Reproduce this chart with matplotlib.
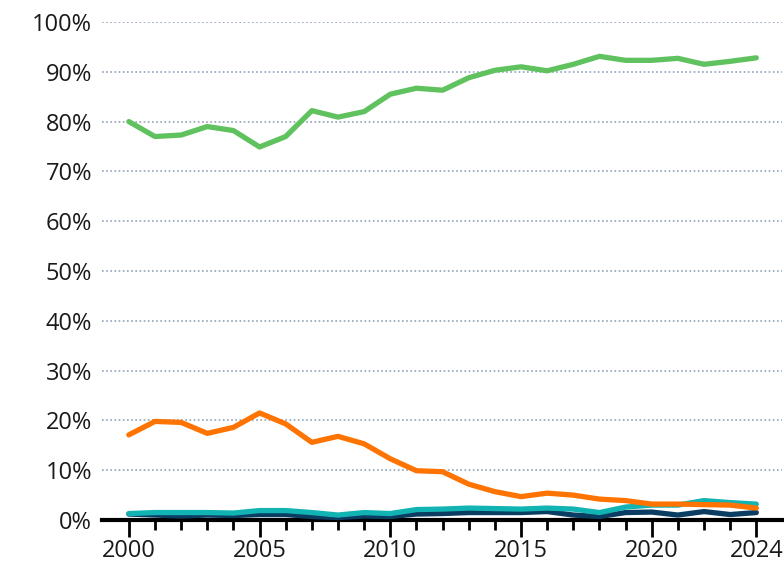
import matplotlib
matplotlib.use('Agg')
import matplotlib.pyplot as plt
from matplotlib.ticker import MultipleLocator, FuncFormatter

years = list(range(2000, 2025))

green = [80.0, 77.0, 77.3, 79.0, 78.2, 74.9, 77.0, 82.2, 80.9, 82.0, 85.5, 86.7, 86.3,
         88.8, 90.3, 91.0, 90.2, 91.5, 93.1, 92.3, 92.3, 92.7, 91.5, 92.1, 92.8]
orange = [17.1, 19.8, 19.6, 17.4, 18.6, 21.5, 19.3, 15.6, 16.8, 15.3, 12.3, 9.9, 9.7,
          7.2, 5.7, 4.7, 5.4, 5.0, 4.2, 3.9, 3.2, 3.2, 3.1, 3.0, 2.4]
teal = [1.3, 1.5, 1.5, 1.5, 1.4, 1.9, 1.9, 1.5, 1.0, 1.5, 1.3, 2.1, 2.2,
        2.4, 2.3, 2.2, 2.4, 2.2, 1.5, 2.6, 3.0, 3.0, 3.9, 3.5, 3.2]
navy = [1.2, 1.0, 0.8, 1.0, 0.9, 1.1, 1.1, 0.7, 0.5, 0.8, 0.7, 1.2, 1.3,
        1.5, 1.5, 1.5, 1.7, 1.0, 0.7, 1.5, 1.6, 1.0, 1.7, 1.1, 1.5]

plt.rcParams['font.family'] = ['Open Sans', 'DejaVu Sans']

fig = plt.figure(figsize=(7.84, 5.65), dpi=100)
ax = fig.add_axes([0.130, 0.0796, 0.868, 0.8815])

lw = 3.8
ax.plot(years, navy, color='#0b3d63', lw=lw, solid_capstyle='round', clip_on=False, zorder=3)
ax.plot(years, teal, color='#12b3b3', lw=lw, solid_capstyle='round', clip_on=False, zorder=4)
ax.plot(years, orange, color='#ff7300', lw=lw, solid_capstyle='round', clip_on=False, zorder=5)
ax.plot(years, green, color='#60c25e', lw=lw, solid_capstyle='round', clip_on=False, zorder=6)

ax.set_xlim(1998.97, 2025.0)
ax.set_ylim(0, 100)

ax.yaxis.set_major_locator(MultipleLocator(10))
ax.yaxis.set_major_formatter(FuncFormatter(lambda v, p: f'{v:.0f}%'))
ax.set_xticks([2000, 2005, 2010, 2015, 2020, 2024])
ax.set_xticks(years, minor=True)

ax.grid(axis='y', color='#8ea3b8', linestyle=(0, (1, 1.5)), linewidth=1.2)
ax.set_axisbelow(True)

for s in ['top', 'right', 'left']:
    ax.spines[s].set_visible(False)
ax.spines['bottom'].set_linewidth(3)
ax.spines['bottom'].set_color('black')
ax.spines['bottom'].set_zorder(2)

ax.tick_params(axis='y', length=0, pad=7, labelsize=17, labelcolor='#1a1a1a')
ax.tick_params(axis='x', which='major', length=12, width=2, color='black', labelsize=17, pad=2,
               labelcolor='#1a1a1a')
ax.tick_params(axis='x', which='minor', length=7, width=2, color='black')

fig.savefig('out.png', dpi=100)
